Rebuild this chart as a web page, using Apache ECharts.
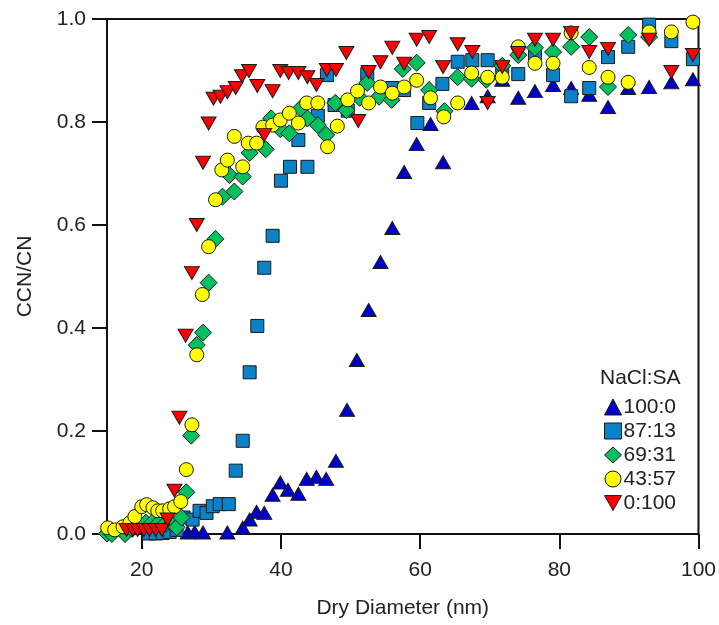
<!DOCTYPE html>
<html>
<head>
<meta charset="utf-8">
<script src="https://cdn.jsdelivr.net/npm/echarts@6/dist/echarts.min.js"></script>
<style>
  html, body { margin: 0; padding: 0; background: #fff; }
  #chart { width: 719px; height: 625px; }
</style>
</head>
<body>
<div id="chart"></div>
<script>
// Activated fraction (CCN/CN) versus dry diameter (nm) for NaCl:SA mixtures
const seriesNames = ['100:0', '87:13', '69:31', '43:57', '0:100'];
const xTicks = [20, 40, 60, 80, 100];

const nacl100 = [
  [26.6, 0.003], [27.6, 0.004], [28.8, 0.003], [32.3, 0.003], [34.5, 0.012],
  [35.5, 0.028], [36.5, 0.043], [37.6, 0.041], [38.8, 0.076], [39.9, 0.100],
  [41.0, 0.086], [42.5, 0.078], [43.7, 0.107], [45.1, 0.111], [46.5, 0.107],
  [47.9, 0.142], [49.5, 0.241], [50.9, 0.338], [52.6, 0.435], [54.3, 0.528],
  [56.0, 0.594], [57.7, 0.703], [59.5, 0.757], [61.5, 0.796], [63.3, 0.722],
  [67.4, 0.837], [69.7, 0.850], [71.8, 0.882], [74.1, 0.847], [76.5, 0.860],
  [79.1, 0.872], [81.7, 0.866], [84.3, 0.853], [87.0, 0.829], [89.9, 0.866],
  [92.9, 0.868], [96.1, 0.877], [99.2, 0.883]
];

const nacl87 = [
  [21.0, 0.001], [22.0, 0.001], [23.0, 0.002], [24.0, 0.004], [25.0, 0.008],
  [26.0, 0.032], [27.3, 0.028], [28.3, 0.045], [29.3, 0.041], [30.2, 0.054],
  [31.2, 0.058], [32.5, 0.058], [33.5, 0.123], [34.5, 0.181], [35.5, 0.314],
  [36.6, 0.404], [37.6, 0.517], [38.8, 0.579], [40.0, 0.686], [41.3, 0.713],
  [42.5, 0.765], [43.8, 0.713], [45.3, 0.812], [46.6, 0.891], [47.7, 0.833],
  [49.6, 0.822], [52.4, 0.893], [56.0, 0.866], [57.7, 0.862], [59.6, 0.798],
  [61.3, 0.837], [63.2, 0.874], [65.4, 0.917], [67.5, 0.920], [69.7, 0.920],
  [71.8, 0.906], [74.1, 0.893], [76.5, 0.926], [79.1, 0.891], [81.7, 0.850],
  [84.3, 0.866], [87.0, 0.926], [89.9, 0.946], [92.9, 0.989], [96.1, 0.957],
  [99.2, 0.922]
];

const nacl69 = [
  [15.0, 0.001], [15.7, 0.000], [17.6, 0.000], [18.6, 0.010], [19.6, 0.016],
  [20.6, 0.022], [21.5, 0.022], [22.5, 0.022], [23.4, 0.020], [24.3, 0.020],
  [25.0, 0.013], [25.7, 0.032], [26.4, 0.081], [27.1, 0.191], [27.9, 0.367],
  [28.8, 0.391], [29.6, 0.488], [30.6, 0.573], [31.6, 0.655], [32.6, 0.697],
  [33.3, 0.665], [34.5, 0.694], [35.5, 0.740], [37.8, 0.747], [38.6, 0.807],
  [39.9, 0.786], [41.2, 0.778], [42.8, 0.826], [43.8, 0.807], [45.3, 0.794],
  [46.5, 0.775], [47.8, 0.837], [49.4, 0.823], [51.3, 0.847], [52.4, 0.876],
  [54.1, 0.849], [55.9, 0.843], [57.5, 0.903], [59.5, 0.915], [61.3, 0.862],
  [63.5, 0.821], [65.4, 0.887], [67.4, 0.884], [69.5, 0.882], [71.8, 0.909],
  [74.1, 0.930], [76.5, 0.944], [79.1, 0.936], [81.7, 0.946], [84.3, 0.965],
  [87.0, 0.868], [89.9, 0.969], [92.9, 0.965]
];

const nacl43 = [
  [15.1, 0.012], [16.1, 0.008], [17.3, 0.014], [18.3, 0.022], [19.0, 0.034],
  [20.0, 0.053], [20.7, 0.057], [21.6, 0.051], [22.3, 0.045], [23.0, 0.045],
  [24.0, 0.049], [24.7, 0.053], [25.6, 0.063], [26.4, 0.125], [27.2, 0.212],
  [27.9, 0.348], [28.7, 0.465], [29.6, 0.558], [30.6, 0.649], [31.5, 0.707],
  [32.3, 0.726], [33.3, 0.772], [34.5, 0.713], [35.3, 0.759], [36.5, 0.759],
  [37.4, 0.790], [38.8, 0.794], [39.9, 0.804], [41.2, 0.817], [42.5, 0.798],
  [43.7, 0.837], [45.3, 0.837], [46.7, 0.752], [48.1, 0.792], [49.6, 0.843],
  [51.0, 0.860], [52.6, 0.837], [54.3, 0.868], [56.0, 0.856], [57.7, 0.868],
  [59.5, 0.881], [61.5, 0.847], [63.4, 0.810], [65.4, 0.837], [67.4, 0.895],
  [69.7, 0.887], [71.8, 0.887], [74.1, 0.946], [76.5, 0.914], [79.1, 0.914],
  [81.7, 0.973], [84.3, 0.906], [87.0, 0.887], [89.9, 0.877], [92.9, 0.975],
  [96.1, 0.975], [99.2, 0.994]
];

const nacl0 = [
  [17.8, 0.008], [18.7, 0.008], [19.4, 0.008], [20.3, 0.008], [21.1, 0.008],
  [22.0, 0.008], [22.9, 0.008], [23.7, 0.028], [24.7, 0.084], [25.4, 0.226],
  [26.3, 0.385], [27.2, 0.507], [27.9, 0.600], [28.8, 0.721], [29.6, 0.797],
  [30.3, 0.845], [31.3, 0.849], [32.3, 0.858], [33.5, 0.866], [34.4, 0.889],
  [35.4, 0.899], [36.6, 0.870], [37.6, 0.775], [38.8, 0.860], [39.9, 0.899],
  [41.1, 0.895], [42.5, 0.895], [43.8, 0.887], [45.1, 0.872], [46.6, 0.901],
  [47.9, 0.901], [49.4, 0.934], [51.1, 0.802], [52.6, 0.897], [54.3, 0.916],
  [56.0, 0.944], [57.7, 0.913], [59.5, 0.960], [61.3, 0.965], [63.3, 0.907],
  [65.4, 0.951], [67.5, 0.936], [69.7, 0.837], [71.8, 0.907], [74.1, 0.934],
  [76.5, 0.960], [79.1, 0.960], [81.7, 0.973], [84.3, 0.936], [87.0, 0.942],
  [92.9, 0.960], [96.1, 0.897], [99.2, 0.930]
];

const FONT = '"Liberation Sans", Arial, sans-serif';
const TEXT_COLOR = '#222';
const downTriangle = 'path://M0,0 L16,0 L8,14 Z';

const styles = [
  { data: nacl100, symbol: 'triangle', size: [15, 13], color: '#0000c8' },
  { data: nacl87, symbol: 'rect', size: 13, color: '#0a82c8' },
  { data: nacl69, symbol: 'diamond', size: 17, color: '#00c060' },
  { data: nacl43, symbol: 'circle', size: 14, color: '#ffff00' },
  { data: nacl0, symbol: downTriangle, size: [15, 13], color: '#ff0000' }
];

const chart = echarts.init(document.getElementById('chart'), null, { renderer: 'canvas' });

chart.setOption({
  animation: false,
  backgroundColor: '#fff',
  textStyle: { fontFamily: FONT },
  grid: {
    left: 107, right: 19, top: 19, bottom: 91,
    show: true, borderColor: '#111', borderWidth: 2, backgroundColor: 'transparent'
  },
  xAxis: {
    type: 'value', min: 15, max: 100,
    name: 'Dry Diameter (nm)', nameLocation: 'middle', nameGap: 64,
    nameTextStyle: { fontSize: 21, color: TEXT_COLOR, fontFamily: FONT },
    axisLine: { show: true, lineStyle: { color: '#111', width: 2 } },
    axisTick: { show: true, length: 15, inside: false, customValues: xTicks,
      lineStyle: { color: '#111', width: 2 } },
    axisLabel: { customValues: xTicks, fontSize: 21, color: TEXT_COLOR, margin: 26, fontFamily: FONT },
    splitLine: { show: false }
  },
  yAxis: {
    type: 'value', min: 0, max: 1, interval: 0.2,
    name: 'CCN/CN', nameLocation: 'middle', nameGap: 71, nameRotate: 90,
    nameTextStyle: { fontSize: 21, color: TEXT_COLOR, fontFamily: FONT },
    axisLine: { show: true, lineStyle: { color: '#111', width: 2 } },
    axisTick: { show: true, length: 15, inside: false, lineStyle: { color: '#111', width: 2 } },
    axisLabel: { fontSize: 21, color: TEXT_COLOR, margin: 21, fontFamily: FONT,
      formatter: v => v.toFixed(1) },
    splitLine: { show: false }
  },
  legend: {
    orient: 'vertical', left: 599, top: 390,
    itemWidth: 17, itemHeight: 16, itemGap: 0, itemStyle: { borderWidth: 1, borderColor: '#1a1a1a' },
    textStyle: { fontSize: 21, color: TEXT_COLOR, lineHeight: 24, fontFamily: FONT, padding: [0, 0, 0, -3] },
    data: seriesNames.map((n, i) => ({ name: n, icon: styles[i].symbol }))
  },
  graphic: [{
    type: 'text', left: 600, top: 368,
    style: { text: 'NaCl:SA', fontSize: 21, fill: TEXT_COLOR, fontFamily: FONT }
  }],
  series: styles.map((s, i) => ({
    name: seriesNames[i],
    type: 'scatter',
    data: s.data,
    symbol: s.symbol,
    symbolSize: s.size,
    z: 2 + i,
    itemStyle: { color: s.color, borderColor: '#1a1a1a', borderWidth: 1, opacity: 1 },
    emphasis: { disabled: true }
  }))
});
</script>
</body>
</html>
